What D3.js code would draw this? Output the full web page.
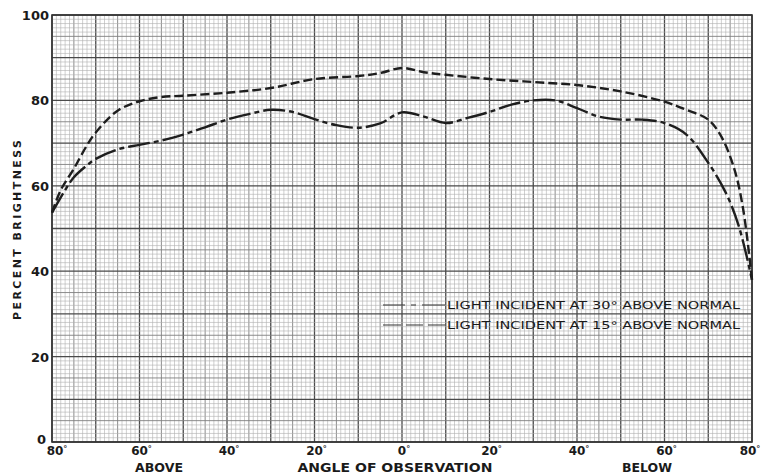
<!DOCTYPE html>
<html>
<head>
<meta charset="utf-8">
<script src="https://cdn.jsdelivr.net/npm/d3@7"></script>
<style>
  body { margin: 0; background: #fff; }
  svg text { font-family: "DejaVu Sans", sans-serif; fill: #1a1a1a; }
</style>
</head>
<body>
<svg id="chart" width="767" height="475"></svg>
<script>
// angle of observation: negative = above, positive = below
const angles15 = [-80, -78, -75, -72, -70, -65, -60, -55, -50, -40, -30, -20, -10, -5, 0, 5, 10, 20, 30, 40, 50, 60, 65, 70, 73, 76, 78, 80];
const bright15 = [53.7, 59, 64, 69.5, 72.5, 77.6, 79.8, 80.8, 81.1, 81.8, 82.9, 85, 85.7, 86.4, 87.6, 86.6, 86, 85, 84.3, 83.6, 82.1, 79.7, 77.8, 75.5, 71.5, 63.8, 54.4, 38];

const angles30 = [-80, -77, -75, -72, -70, -65, -60, -55, -50, -45, -40, -35, -30, -25, -20, -15, -10, -5, 0, 5, 10, 15, 20, 25, 30, 35, 40, 45, 50, 55, 60, 65, 70, 74, 77, 80];
const bright30 = [53.7, 59, 62, 64.8, 66.3, 68.5, 69.6, 70.6, 72, 73.7, 75.5, 76.8, 77.8, 77.3, 75.6, 74.2, 73.6, 74.6, 77.2, 76.2, 74.7, 75.9, 77.3, 79, 80, 80, 78.2, 76.2, 75.5, 75.5, 74.7, 72, 65.4, 58.4, 50.5, 38];

const yTicks = [0, 20, 40, 60, 80, 100];
const xTicks = [-80, -60, -40, -20, 0, 20, 40, 60, 80];
const legendLabels = ["LIGHT INCIDENT AT 30\u00B0 ABOVE NORMAL", "LIGHT INCIDENT AT 15\u00B0 ABOVE NORMAL"];

const svg = d3.select('#chart');
const plotLeft = 52, plotRight = 752, plotTop = 15, plotBottom = 442;

const x = d3.scaleLinear().domain([-80, 80]).range([plotLeft, plotRight]);
const y = d3.scaleLinear().domain([0, 100]).range([plotBottom, plotTop]);

const grid = svg.append('g');

// graph paper: 1-unit fine, 5-unit medium, 10-unit heavy
function gridStyle(v) {
    if (v % 10 === 0) return { c: '#4a4a4a', w: 1.3 };
    if (v % 5 === 0) return { c: '#808080', w: 0.9 };
    return { c: '#b0b0b0', w: 0.6 };
}
d3.range(-80, 81, 1).forEach(function(v) {
    const s = gridStyle(v);
    grid.append('line')
        .attr('x1', x(v)).attr('x2', x(v))
        .attr('y1', y(0)).attr('y2', y(100))
        .attr('stroke', s.c).attr('stroke-width', s.w);
});
d3.range(0, 101, 1).forEach(function(v) {
    const s = gridStyle(v);
    grid.append('line')
        .attr('x1', x(-80)).attr('x2', x(80))
        .attr('y1', y(v)).attr('y2', y(v))
        .attr('stroke', s.c).attr('stroke-width', s.w);
});

grid.append('rect')
    .attr('x', x(-80)).attr('y', y(100))
    .attr('width', x(80) - x(-80)).attr('height', y(0) - y(100))
    .attr('fill', 'none').attr('stroke', '#333').attr('stroke-width', 1.6);

// y tick labels
svg.append('g').selectAll('text')
    .data(yTicks)
    .join('text')
    .attr('x', d => d === 0 ? 46 : 49)
    .attr('y', d => y(d) + (d === 0 ? 2 : 5))
    .attr('text-anchor', 'end')
    .attr('font-size', 13)
    .attr('font-weight', 'bold')
    .text(d => d);

// x tick labels
const xl = svg.append('g').selectAll('text')
    .data(xTicks)
    .join('text')
    .attr('x', d => x(d) + (d === 80 ? -2 : (d === -80 ? 5 : 2)))
    .attr('y', 455)
    .attr('text-anchor', 'middle')
    .attr('font-size', 12)
    .attr('font-weight', 'bold');
xl.append('tspan').text(d => Math.abs(d));
xl.append('tspan').attr('font-size', 8).attr('dy', -3).text('\u00B0');

// axis titles
const bottomTitles = [
    { t: 'ABOVE', cx: 159, w: 48 },
    { t: 'ANGLE OF OBSERVATION', cx: 395, w: 195 },
    { t: 'BELOW', cx: 647, w: 50 }
];
svg.append('g').selectAll('text')
    .data(bottomTitles)
    .join('text')
    .attr('x', d => d.cx - d.w / 2)
    .attr('y', 472)
    .attr('font-size', 11.5)
    .attr('font-weight', 'bold')
    .attr('textLength', d => d.w)
    .attr('lengthAdjust', 'spacingAndGlyphs')
    .text(d => d.t);

svg.append('text')
    .attr('transform', 'translate(21,230) rotate(-90)')
    .attr('x', -90)
    .attr('font-size', 11)
    .attr('font-weight', 'bold')
    .attr('textLength', 180)
    .attr('lengthAdjust', 'spacing')
    .text('PERCENT BRIGHTNESS');

// curves
const line = d3.line()
    .x(d => x(d[0]))
    .y(d => y(d[1]))
    .curve(d3.curveCatmullRom.alpha(0.5));

const series = [
    { a: angles30, v: bright30, dash: '22,4,5,4' },
    { a: angles15, v: bright15, dash: '9,4' }
];

svg.append('g').selectAll('path')
    .data(series)
    .join('path')
    .attr('d', s => line(s.a.map((a, i) => [a, s.v[i]])))
    .attr('fill', 'none')
    .attr('stroke', '#1e1e1e')
    .attr('stroke-width', 2.4)
    .attr('stroke-dasharray', s => s.dash);

// legend
const legend = svg.append('g');
legendLabels.forEach(function(lbl, i) {
    const ly = 305 + i * 20;
    legend.append('line')
        .attr('x1', 383).attr('x2', 445)
        .attr('y1', ly).attr('y2', ly)
        .attr('stroke', '#333').attr('stroke-width', 1.2)
        .attr('stroke-dasharray', i === 0 ? '22,6,5,6,30' : '18,5,17,5,20');
    legend.append('text')
        .attr('x', 447)
        .attr('y', ly + 4)
        .attr('font-size', 11)
        .attr('textLength', 293)
        .attr('lengthAdjust', 'spacingAndGlyphs')
        .text(lbl);
});
</script>
</body>
</html>
